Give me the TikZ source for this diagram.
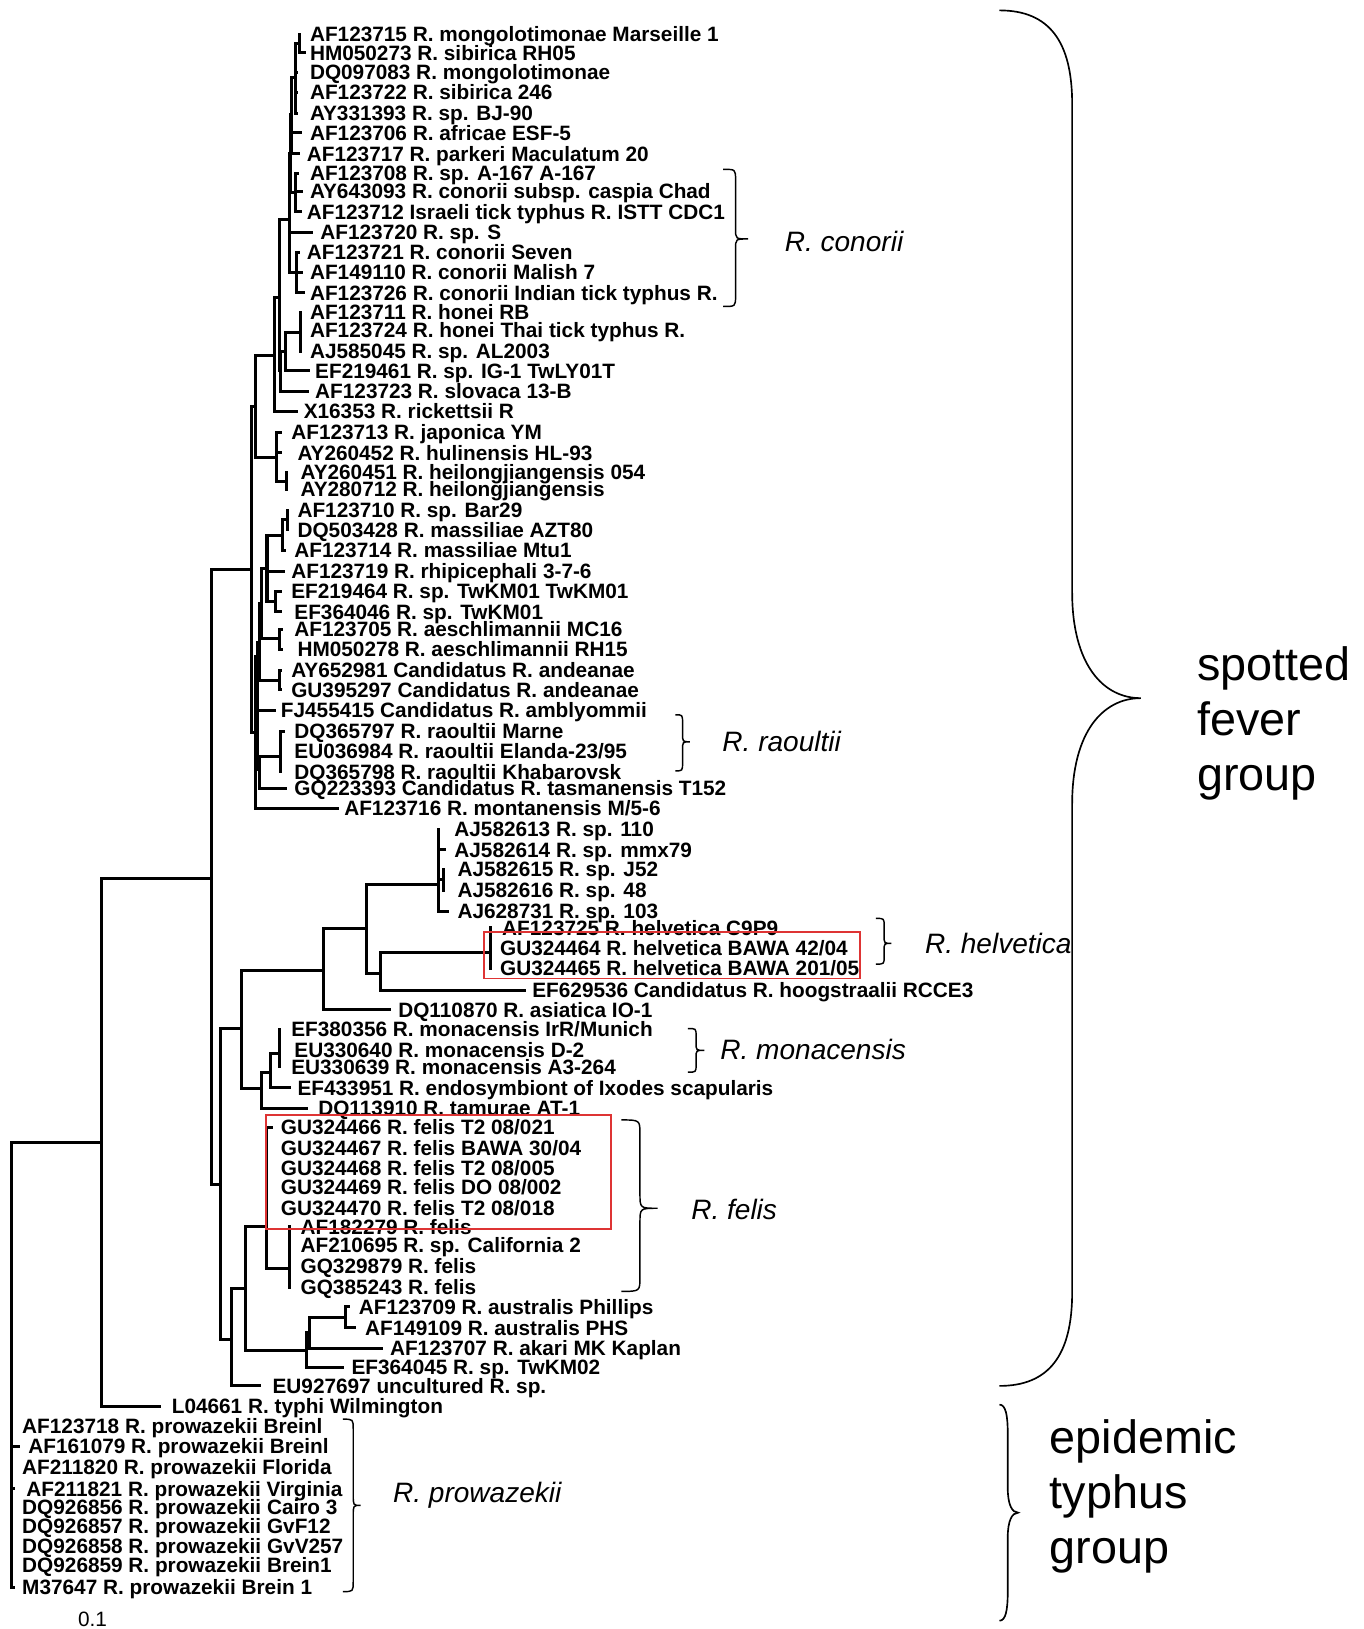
\documentclass[tikz,border=0pt]{standalone}
\usepackage{fontspec}
\setmainfont{Liberation Sans}
\definecolor{boxred}{RGB}{222,52,52}
\newcommand\tleaf[5]{\coordinate (t#1) at (#3,#2); \node[lab] (n#1) at (#4,{#2+7}) {#5};}
\newcommand\tnode[3]{\coordinate (#1) at (#2,#3);}
\newcommand\tedge[2]{\draw[tree] (#1) |- (#2);}
\newcommand\cbrace[7]{% x0 x1 xt ytop ymid ybot r
  \draw[brace] (#1,#4) .. controls (#2,#4) .. (#2,{#4+#7}) -- (#2,{#5-#7})
    .. controls (#2,#5) .. (#3,#5) .. controls (#2,#5) .. (#2,{#5+#7})
    -- (#2,{#6-#7}) .. controls (#2,#6) .. (#1,#6);}
\begin{document}
\begin{tikzpicture}[x=0.5pt,y=-0.5pt,
  tree/.style={line width=1.45pt, line join=miter, line cap=rect},
  lab/.style={anchor=base west, inner sep=0pt, font=\bfseries\fontsize{10}{10}\selectfont},
  clade/.style={anchor=base west, inner sep=0pt, font=\itshape\fontsize{13.5}{14}\selectfont},
  grp/.style={anchor=base west, inner sep=0pt, font=\fontsize{22.5}{24}\selectfont},
  brace/.style={line width=0.7pt},
  bigbrace/.style={line width=0.8pt},
  redbox/.style={draw=boxred, line width=0.8pt}]
\useasboundingbox (0,0) rectangle (1312,1568);
% ---------------- leaves ----------------
\tleaf{1}{33}{288}{298}{AF123715 R. mongolotimonae Marseille 1}
\tleaf{2}{51}{293}{298}{HM050273 R. sibirica RH05}
\tleaf{3}{70}{285}{298}{DQ097083 R. mongolotimonae}
\tleaf{4}{89}{285}{298}{AF123722 R. sibirica 246}
\tleaf{5}{109}{285}{298}{AY331393 R. sp. BJ-90}
\tleaf{6}{128}{289}{298}{AF123706 R. africae ESF-5}
\tleaf{7}{148}{287}{295}{AF123717 R. parkeri Maculatum 20}
\tleaf{8}{167}{286}{298}{AF123708 R. sp. A-167 A-167}
\tleaf{9}{184}{290}{298}{AY643093 R. conorii subsp. caspia Chad}
\tleaf{10}{204}{289}{295}{AF123712 Israeli tick typhus R. ISTT CDC1}
\tleaf{11}{224}{300}{308}{AF123720 R. sp. S}
\tleaf{12}{243}{287}{295}{AF123721 R. conorii Seven}
\tleaf{13}{262}{290}{298}{AF149110 R. conorii Malish 7}
\tleaf{14}{282}{292}{298}{AF123726 R. conorii Indian tick typhus R.}
\tleaf{15}{301}{289}{298}{AF123711 R. honei RB}
\tleaf{16}{318}{289}{298}{AF123724 R. honei Thai tick typhus R.}
\tleaf{17}{338}{289}{298}{AJ585045 R. sp. AL2003}
\tleaf{18}{357}{297}{303}{EF219461 R. sp. IG-1 TwLY01T}
\tleaf{19}{377}{296}{303}{AF123723 R. slovaca 13-B}
\tleaf{20}{396}{285}{292}{X16353 R. rickettsii R}
\tleaf{21}{416}{270}{280}{AF123713 R. japonica YM}
\tleaf{22}{436}{270}{286}{AY260452 R. hulinensis HL-93}
\tleaf{23}{455}{276}{289}{AY260451 R. heilongjiangensis 054}
\tleaf{24}{471}{276}{289}{AY280712 R. heilongjiangensis}
\tleaf{25}{491}{277}{286}{AF123710 R. sp. Bar29}
\tleaf{26}{510}{277}{286}{DQ503428 R. massiliae AZT80}
\tleaf{27}{530}{274}{283}{AF123714 R. massiliae Mtu1}
\tleaf{28}{550}{273}{280}{AF123719 R. rhipicephali 3-7-6}
\tleaf{29}{569}{270}{280}{EF219464 R. sp. TwKM01 TwKM01}
\tleaf{30}{589}{270}{283}{EF364046 R. sp. TwKM01}
\tleaf{31}{606}{271}{283}{AF123705 R. aeschlimannii MC16}
\tleaf{32}{625}{271}{286}{HM050278 R. aeschlimannii RH15}
\tleaf{33}{645}{270}{280}{AY652981 Candidatus R. andeanae}
\tleaf{34}{664}{270}{280}{GU395297 Candidatus R. andeanae}
\tleaf{35}{684}{264}{270}{FJ455415 Candidatus R. amblyommii}
\tleaf{36}{704}{273}{283}{DQ365797 R. raoultii Marne}
\tleaf{37}{723}{270}{283}{EU036984 R. raoultii Elanda-23/95}
\tleaf{38}{743}{270}{283}{DQ365798 R. raoultii Khabarovsk}
\tleaf{39}{759}{275}{283}{GQ223393 Candidatus R. tasmanensis T152}
\tleaf{40}{778}{325}{331}{AF123716 R. montanensis M/5-6}
\tleaf{41}{798}{422}{437}{AJ582613 R. sp. 110}
\tleaf{42}{818}{428}{437}{AJ582614 R. sp. mmx79}
\tleaf{43}{837}{427}{440}{AJ582615 R. sp. J52}
\tleaf{44}{857}{427}{440}{AJ582616 R. sp. 48}
\tleaf{45}{877}{431}{440}{AJ628731 R. sp. 103}
\tleaf{46}{893}{472}{483}{AF123725 R. helvetica C9P9}
\tleaf{47}{913}{472}{481}{GU324464 R. helvetica BAWA 42/04}
\tleaf{48}{932}{472}{481}{GU324465 R. helvetica BAWA 201/05}
\tleaf{49}{953}{505}{512}{EF629536 Candidatus R. hoogstraalii RCCE3}
\tleaf{50}{972}{375}{383}{DQ110870 R. asiatica IO-1}
\tleaf{51}{991}{269.5}{280}{EF380356 R. monacensis IrR/Munich}
\tleaf{52}{1011}{269.5}{283}{EU330640 R. monacensis D-2}
\tleaf{53}{1027}{269.5}{280}{EU330639 R. monacensis A3-264}
\tleaf{54}{1047}{279}{286}{EF433951 R. endosymbiont of Ixodes scapularis}
\tleaf{55}{1067}{295}{306}{DQ113910 R. tamurae AT-1}
\tleaf{56}{1085}{261}{270}{GU324466 R. felis T2 08/021}
\tleaf{57}{1105}{256.7}{270}{GU324467 R. felis BAWA 30/04}
\tleaf{58}{1124}{256.7}{270}{GU324468 R. felis T2 08/005}
\tleaf{59}{1143}{256.7}{270}{GU324469 R. felis DO 08/002}
\tleaf{60}{1163}{256.7}{270}{GU324470 R. felis T2 08/018}
\tleaf{61}{1181}{279}{289}{AF182279 R. felis}
\tleaf{62}{1199}{279}{289}{AF210695 R. sp. California 2}
\tleaf{63}{1219}{279}{289}{GQ329879 R. felis}
\tleaf{64}{1239}{279}{289}{GQ385243 R. felis}
\tleaf{65}{1258}{335}{345}{AF123709 R. australis Phillips}
\tleaf{66}{1278}{341}{351}{AF149109 R. australis PHS}
\tleaf{67}{1298}{367}{375}{AF123707 R. akari MK Kaplan}
\tleaf{68}{1316}{330}{338}{EF364045 R. sp. TwKM02}
\tleaf{69}{1334}{250}{262}{EU927697 uncultured R. sp.}
\tleaf{70}{1354}{154}{165}{L04661 R. typhi Wilmington}
\tleaf{71}{1373}{11.2}{21}{AF123718 R. prowazekii Breinl}
\tleaf{72}{1392}{17.6}{27}{AF161079 R. prowazekii Breinl}
\tleaf{73}{1412}{11.2}{21}{AF211820 R. prowazekii Florida}
\tleaf{74}{1433}{13}{25}{AF211821 R. prowazekii Virginia}
\tleaf{75}{1451}{11.2}{21}{DQ926856 R. prowazekii Cairo 3}
\tleaf{76}{1469}{11.2}{21}{DQ926857 R. prowazekii GvF12}
\tleaf{77}{1488}{11.2}{21}{DQ926858 R. prowazekii GvV257}
\tleaf{78}{1507}{11.2}{21}{DQ926859 R. prowazekii Brein1}
\tleaf{79}{1528}{13}{21}{M37647 R. prowazekii Brein 1}
% ---------------- internal nodes ----------------
\tnode{T0}{288}{42}
\tnode{T1}{284}{75}
\tnode{T1b}{281}{110}
\tnode{T2}{284}{185}
\tnode{T12}{279.5}{148}
\tnode{T3}{285.5}{262}
\tnode{X0}{279}{211}
\tnode{H1}{289}{320}
\tnode{H2}{275}{338}
\tnode{H3}{270}{357}
\tnode{Y}{269}{286}
\tnode{C1}{264.6}{342}
\tnode{JH}{276}{463}
\tnode{JN}{265.7}{440}
\tnode{V}{246.4}{391}
\tnode{M1}{277}{500}
\tnode{M2}{272}{515}
\tnode{M4}{265}{579}
\tnode{M3}{257}{547}
\tnode{A1}{269.5}{615}
\tnode{A2}{269.5}{655}
\tnode{R1}{270}{728}
\tnode{R2}{250}{741}
\tnode{W3}{252}{581}
\tnode{W4}{250}{618}
\tnode{W2}{248}{632}
\tnode{W}{245.5}{705}
\tnode{C}{242}{548}
\tnode{J2}{427}{847}
\tnode{J}{422}{851}
\tnode{L}{471.7}{917}
\tnode{K}{365.8}{937}
\tnode{I}{352.9}{894}
\tnode{G}{311.2}{934}
\tnode{N}{269.5}{1014}
\tnode{M}{259.9}{1032}
\tnode{H}{251.9}{1047.5}
\tnode{E}{232.6}{990}
\tnode{P2}{279.1}{1221}
\tnode{P}{256.7}{1181}
\tnode{Q2}{333}{1268}
\tnode{Q1}{298}{1283}
\tnode{Q}{295.2}{1300}
\tnode{O}{236.5}{1240}
\tnode{F}{223}{1289}
\tnode{D}{212.4}{1140}
\tnode{B}{203.7}{846}
\tnode{A}{98}{1100}
\tnode{Rt}{11.2}{1100}
% ---------------- branches ----------------
\foreach \p/\c in {T0/t1,T0/t2,T1/T0,T1/t3,T1/t4,T1/t5,T1b/T1,T1b/t6,T1b/t7,
  T2/t8,T2/t9,T2/t10,T12/T1b,T12/T2,T3/t12,T3/t13,T3/t14,X0/T12,X0/t11,X0/T3,
  H1/t15,H1/t16,H1/t17,H2/H1,H2/t18,H3/H2,H3/t19,Y/X0,Y/H3,C1/Y,C1/t20,
  JH/t23,JH/t24,JN/t21,JN/t22,JN/JH,V/C1,V/JN,
  M1/t25,M1/t26,M2/M1,M2/t27,M4/t29,M4/t30,M3/M2,M3/t28,M3/M4,
  A1/t31,A1/t32,A2/t33,A2/t34,R1/t36,R1/t37,R1/t38,R2/R1,R2/t39,
  W3/M3,W3/A1,W4/W3,W4/A2,W2/W4,W2/t35,W2/R2,W/W2,W/t40,C/V,C/W,
  J2/t43,J2/t44,J/t41,J/t42,J/J2,J/t45,L/t46,L/t47,L/t48,K/L,K/t49,I/J,I/K,G/I,G/t50,
  N/t51,N/t52,N/t53,M/N,M/t54,H/M,H/t55,E/G,E/H,
  P2/t61,P2/t62,P2/t63,P2/t64,P/t56,P/t57,P/t58,P/t59,P/t60,P/P2,
  Q2/t65,Q2/t66,Q1/Q2,Q1/t67,Q/Q1,Q/t68,O/P,O/Q,F/O,F/t69,D/E,D/F,B/C,B/D,
  A/B,A/t70,Rt/A,Rt/t71,Rt/t72,Rt/t73,Rt/t74,Rt/t75,Rt/t76,Rt/t77,Rt/t78,Rt/t79}
  {\tedge{\p}{\c}}
% ---------------- red boxes ----------------
\draw[redbox] (466,897) rectangle (828,942);
\draw[redbox] (256,1073) rectangle (588,1183);
% ---------------- small braces and clade names ----------------
\cbrace{696}{708}{720}{163}{230}{295}{10}
\node[clade] (cl1) at (755,242) {R. conorii};
\cbrace{650}{657}{664}{688}{714}{742}{8}
\node[clade] (cl2) at (695,723) {R. raoultii};
\cbrace{843}{851}{858}{884}{908}{928}{7}
\node[clade] (cl3) at (890,918) {R. helvetica};
\cbrace{662}{670}{678}{990}{1011}{1032}{7}
\node[clade] (cl4) at (693,1020) {R. monacensis};
\cbrace{598}{616}{633}{1078}{1163}{1243}{14}
\node[clade] (cl5) at (665,1174) {R. felis};
\cbrace{330}{340}{347}{1366}{1449}{1532}{10}
\node[clade] (cl6) at (378,1446) {R. prowazekii};
% ---------------- group braces ----------------
\draw[bigbrace] (962,10) .. controls (1010,10) and (1032,40) .. (1032,100) -- (1032,570)
  .. controls (1032,640) and (1062,672) .. (1098,672)
  .. controls (1062,672) and (1032,704) .. (1032,774) -- (1032,1244)
  .. controls (1032,1304) and (1010,1334) .. (962,1334);
\node[grp] (g1) at (1152,655) {spotted};
\node[grp] (g2) at (1152,708) {fever};
\node[grp] (g3) at (1152,761) {group};
\draw[bigbrace] (962,1352) .. controls (968,1352) and (970,1362) .. (970,1380) -- (970,1432)
  .. controls (970,1448) and (974,1456) .. (980,1456)
  .. controls (974,1456) and (970,1464) .. (970,1480) -- (970,1532)
  .. controls (970,1550) and (968,1560) .. (962,1560);
\node[grp] (g4) at (1010,1399) {epidemic};
\node[grp] (g5) at (1010,1452) {typhus};
\node[grp] (g6) at (1010,1505) {group};
% ---------------- scale ----------------
\node[inner sep=0pt, font=\fontsize{10}{12}\selectfont] (sc) at (89,1559) {0.1};
\end{tikzpicture}
\end{document}
